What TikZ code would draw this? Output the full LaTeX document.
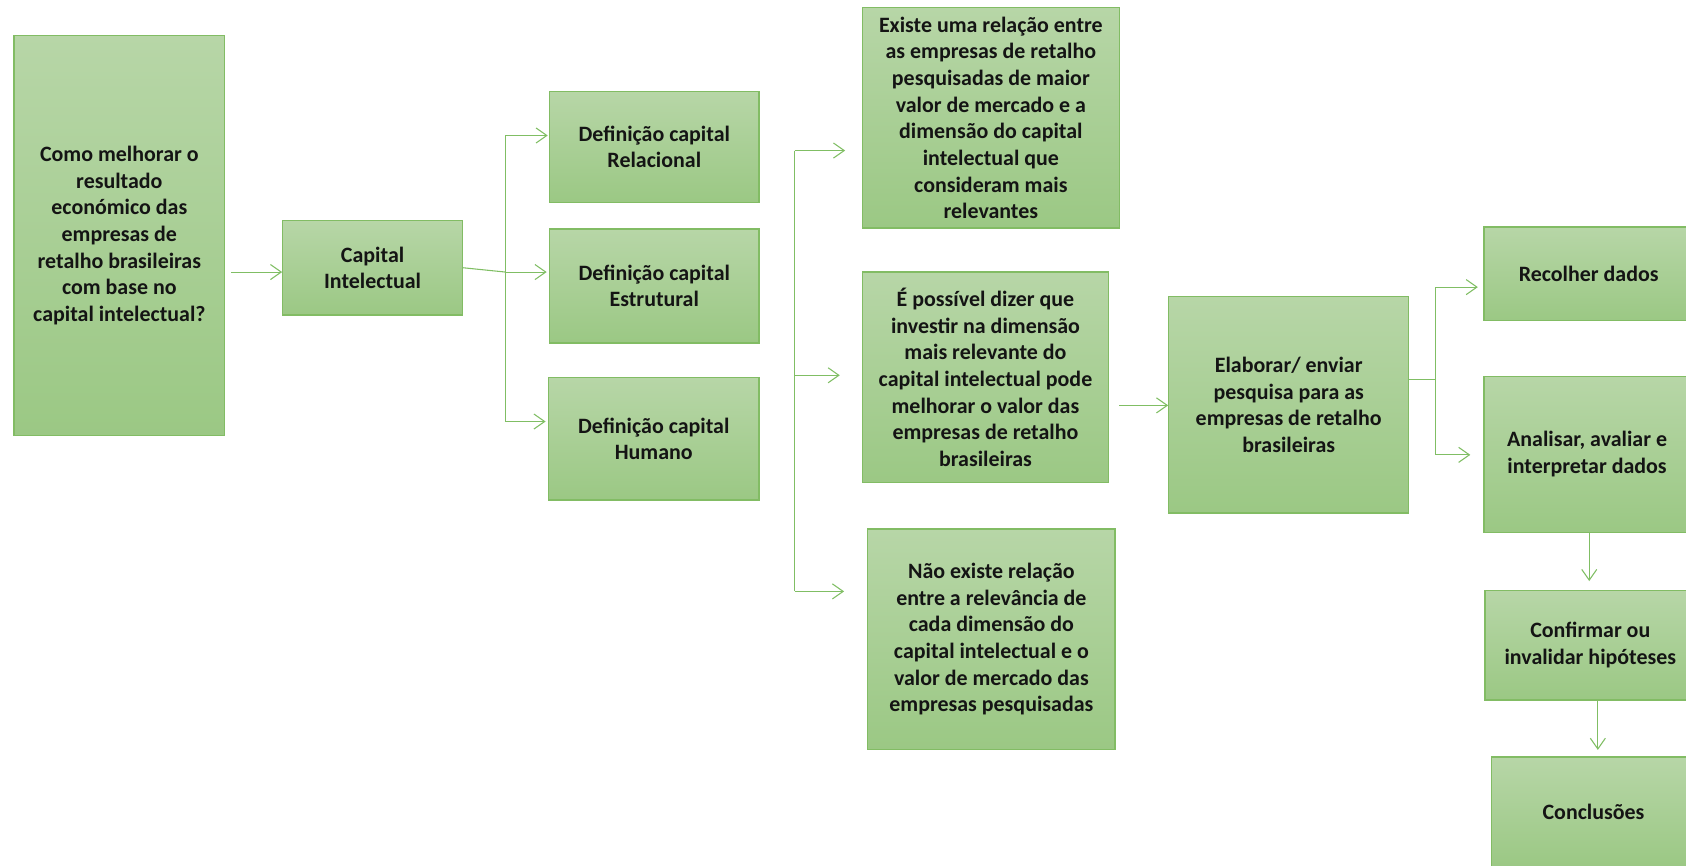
\documentclass[tikz,border=0pt]{standalone}
\usepackage{fontspec}
\setmainfont{Carlito}
\usetikzlibrary{arrows.meta,calc}
\definecolor{gtop}{RGB}{183,214,167}
\definecolor{gbot}{RGB}{155,200,132}
\definecolor{gedge}{RGB}{130,188,100}
\definecolor{gline}{RGB}{128,190,100}
\definecolor{txt}{RGB}{20,20,20}
\tikzset{
  box/.style={draw=gedge, line width=0.6pt, top color=gtop, bottom color=gbot,
    align=center, inner sep=0pt, text=txt,
    font=\bfseries\fontsize{10.2}{12.4}\selectfont},
  ln/.style={draw=gline, line width=0.5pt},
  arr/.style={ln, -{Straight Barb[length=5pt,width=7pt]}}
}
\begin{document}
\begin{tikzpicture}[x=0.5pt,y=-0.5pt]
\useasboundingbox (0,0) rectangle (1568,805);
\clip (0,0) rectangle (1568,805);
% boxes
\node[box, minimum width=98pt, minimum height=186pt] (q) at (111,219)
  {Como melhorar o\\ resultado\\ económico das\\ empresas de\\ retalho brasileiras\\ com base no\\ capital intelectual?};
\node[box, minimum width=83.5pt, minimum height=44pt] (ci) at (346.5,249) {Capital\\ Intelectual};
\node[box, minimum width=97.5pt, minimum height=51.5pt] (rel) at (608.5,136.5) {Definição capital\\ Relacional};
\node[box, minimum width=97.5pt, minimum height=53pt] (est) at (608.5,266) {Definição capital\\ Estrutural};
\node[box, minimum width=98pt, minimum height=57pt] (hum) at (608,408) {Definição capital\\ Humano};
\node[box, minimum width=119.5pt, minimum height=102.5pt] (h1) at (921.5,109.5)
  {Existe uma relação entre\\ as empresas de retalho\\ pesquisadas de maior\\ valor de mercado e a\\ dimensão do capital\\ intelectual que\\ consideram mais\\ relevantes};
\node[box, minimum width=114.5pt, minimum height=98pt] (h2) at (916.5,351)
  {É possível dizer que\\ investir na dimensão\\ mais relevante do\\ capital intelectual pode\\ melhorar o valor das\\ empresas de retalho\\ brasileiras};
\node[box, minimum width=115pt, minimum height=102.5pt] (h3) at (922,594.5)
  {Não existe relação\\ entre a relevância de\\ cada dimensão do\\ capital intelectual e o\\ valor de mercado das\\ empresas pesquisadas};
\node[box, minimum width=111.5pt, minimum height=100.5pt] (elab) at (1198.5,376.5)
  {Elaborar/ enviar\\ pesquisa para as\\ empresas de retalho\\ brasileiras};
\node[box, minimum width=97.5pt, minimum height=43.5pt] (rec) at (1477.5,254.5) {Recolher dados};
\node[box, minimum width=96pt, minimum height=72.5pt] (ana) at (1476,422.5) {Analisar, avaliar e\\ interpretar dados};
\node[box, minimum width=98pt, minimum height=51pt] (conf) at (1479,600) {Confirmar ou\\ invalidar hipóteses};
\node[box, minimum width=95pt, minimum height=51pt] (conc) at (1482,755) {Conclusões};
% connectors
\coordinate (qa) at (215,253);
\draw[arr] (qa) -- (qa -| ci.west);
\coordinate (b0) at (470,253);
\coordinate (b1) at (470,126);
\coordinate (b3) at (470,392);
\draw[ln] (ci.east) -- (b0);
\draw[ln] (b1) -- (b3);
\draw[arr] (b1) -- ([xshift=-0.5pt]b1 -| rel.west);
\draw[arr] (b0) -- ([xshift=-1pt]b0 -| est.west);
\draw[arr] (b3) -- ([xshift=-1pt]b3 -| hum.west);
\coordinate (v1) at (739,140);
\coordinate (v2) at (739,349);
\coordinate (v3) at (739,550);
\draw[ln] (v1) -- (v3);
\draw[arr] (v1) -- ++(47,0);
\draw[arr] (v2) -- ++(42,0);
\draw[arr] (v3) -- ++(46,0);
\coordinate (ha) at (1041,377);
\draw[arr] (ha) -- (ha -| elab.west);
\coordinate (e0) at (1310,353);
\coordinate (e1) at (1335,267);
\coordinate (e2) at (1335,423);
\coordinate (e3) at (1335,353);
\draw[ln] (e0) -- (e3);
\draw[ln] (e1) -- (e2);
\draw[arr] (e1) -- ([xshift=-2.5pt]e1 -| rec.west);
\draw[arr] (e2) -- ([xshift=-6pt]e2 -| ana.west);
\coordinate (d1) at (1478,495);
\draw[arr] (d1) -- ([yshift=4pt]d1 |- conf.north);
\coordinate (d2) at (1486,652);
\draw[arr] (d2) -- ([yshift=3pt]d2 |- conc.north);
\end{tikzpicture}
\end{document}
